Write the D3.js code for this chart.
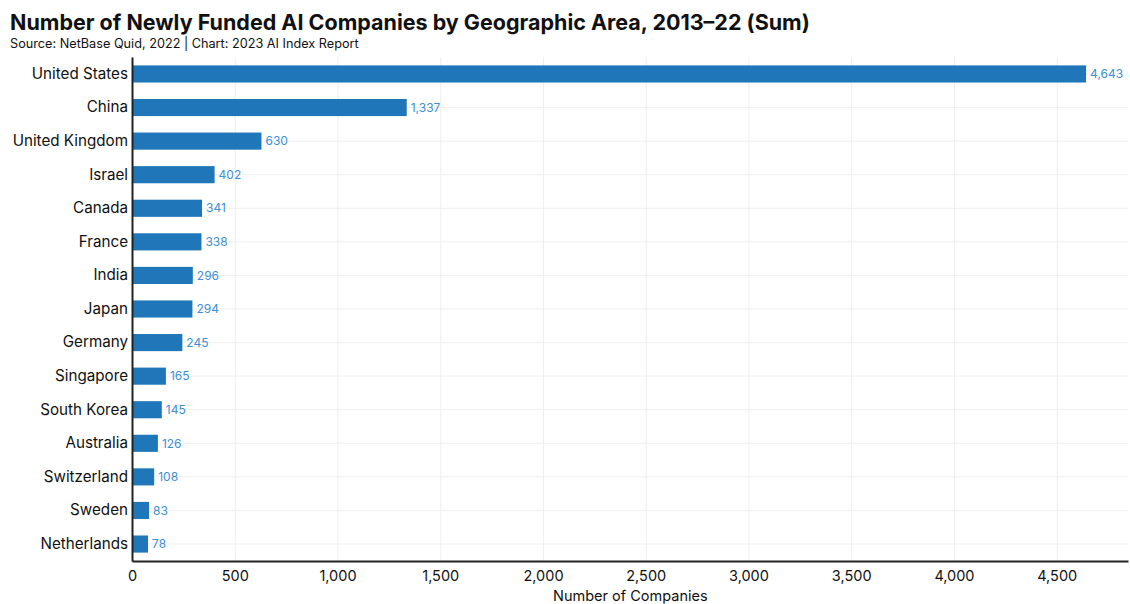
<!DOCTYPE html>
<html>
<head>
<meta charset="utf-8">
<script src="https://cdn.jsdelivr.net/npm/d3@7"></script>
<style>
  body { margin: 0; background: #fff; font-family: Inter, "Noto Sans", sans-serif; }
  .grid line { stroke: #efefef; }
  .grid path { display: none; }
</style>
</head>
<body>
<div id="chart"></div>
<script>
// data
const countries = ["United States", "China", "United Kingdom", "Israel", "Canada", "France", "India",
  "Japan", "Germany", "Singapore", "South Korea", "Australia", "Switzerland", "Sweden", "Netherlands"];
const companies = [4643, 1337, 630, 402, 341, 338, 296, 294, 245, 165, 145, 126, 108, 83, 78];
const xTicks = [0, 500, 1000, 1500, 2000, 2500, 3000, 3500, 4000, 4500];

const data = countries.map(function(c, i) { return {country: c, value: companies[i]}; });

const W = 1130, H = 604;
const margin = {top: 57, right: 2, bottom: 43, left: 132};
const width = W - margin.left - margin.right,
      height = H - margin.top - margin.bottom;

const svg = d3.select("#chart").append("svg")
  .attr("width", W).attr("height", H);

svg.append("text")
  .attr("x", 10).attr("y", 30)
  .style("font-size", "21.5px").style("font-weight", "700").style("fill", "#111")
  .text("Number of Newly Funded AI Companies by Geographic Area, 2013–22 (Sum)");

svg.append("text")
  .attr("x", 10).attr("y", 48)
  .style("font-size", "12.7px").style("fill", "#111")
  .text("Source: NetBase Quid, 2022 | Chart: 2023 AI Index Report");

const g = svg.append("g").attr("transform", "translate(" + margin.left + "," + margin.top + ")");

let xScale = d3.scaleLinear().domain([0, 4847]).range([0, width]);
let yScale = d3.scaleBand().domain(countries).range([0, height]).paddingInner(0.49).paddingOuter(0.25);

// gridlines
g.append("g").attr("class", "grid")
  .call(d3.axisBottom(xScale).tickValues(xTicks).tickFormat("").tickSize(height));

g.append("g").attr("class", "grid")
  .call(d3.axisLeft(yScale).tickFormat("").tickSize(-width));

// bars
g.selectAll("rect.bar").data(data).enter().append("rect")
  .attr("class", "bar")
  .attr("x", 0)
  .attr("y", function(d) { return yScale(d.country); })
  .attr("width", function(d) { return xScale(d.value); })
  .attr("height", yScale.bandwidth())
  .style("fill", "#1f77b9");

// value labels
g.selectAll("text.val").data(data).enter().append("text")
  .attr("class", "val")
  .attr("x", function(d) { return xScale(d.value) + 4; })
  .attr("y", function(d) { return yScale(d.country) + yScale.bandwidth() / 2; })
  .attr("dy", "0.35em")
  .style("font-size", "12px").style("fill", "#3d8fd6")
  .text(function(d) { return d3.format(",")(d.value); });

// axes
let xAxis = g.append("g").attr("transform", "translate(0," + height + ")")
  .call(d3.axisBottom(xScale).tickValues(xTicks).tickSize(0).tickPadding(10).tickFormat(d3.format(",")));
xAxis.select(".domain").attr("stroke", "#222").attr("stroke-width", 2);
xAxis.selectAll("text").style("font-size", "14.5px").style("fill", "#111").style("font-family", "Inter, sans-serif");

let yAxis = g.append("g")
  .call(d3.axisLeft(yScale).tickSize(0).tickPadding(4));
yAxis.select(".domain").attr("stroke", "#222").attr("stroke-width", 2);
yAxis.selectAll("text").style("font-size", "15.2px").style("fill", "#111").style("font-family", "Inter, sans-serif");

g.append("text")
  .attr("x", xScale(2425)).attr("y", height + 40)
  .style("text-anchor", "middle").style("font-size", "14.5px").style("fill", "#111")
  .text("Number of Companies");
</script>
</body>
</html>
